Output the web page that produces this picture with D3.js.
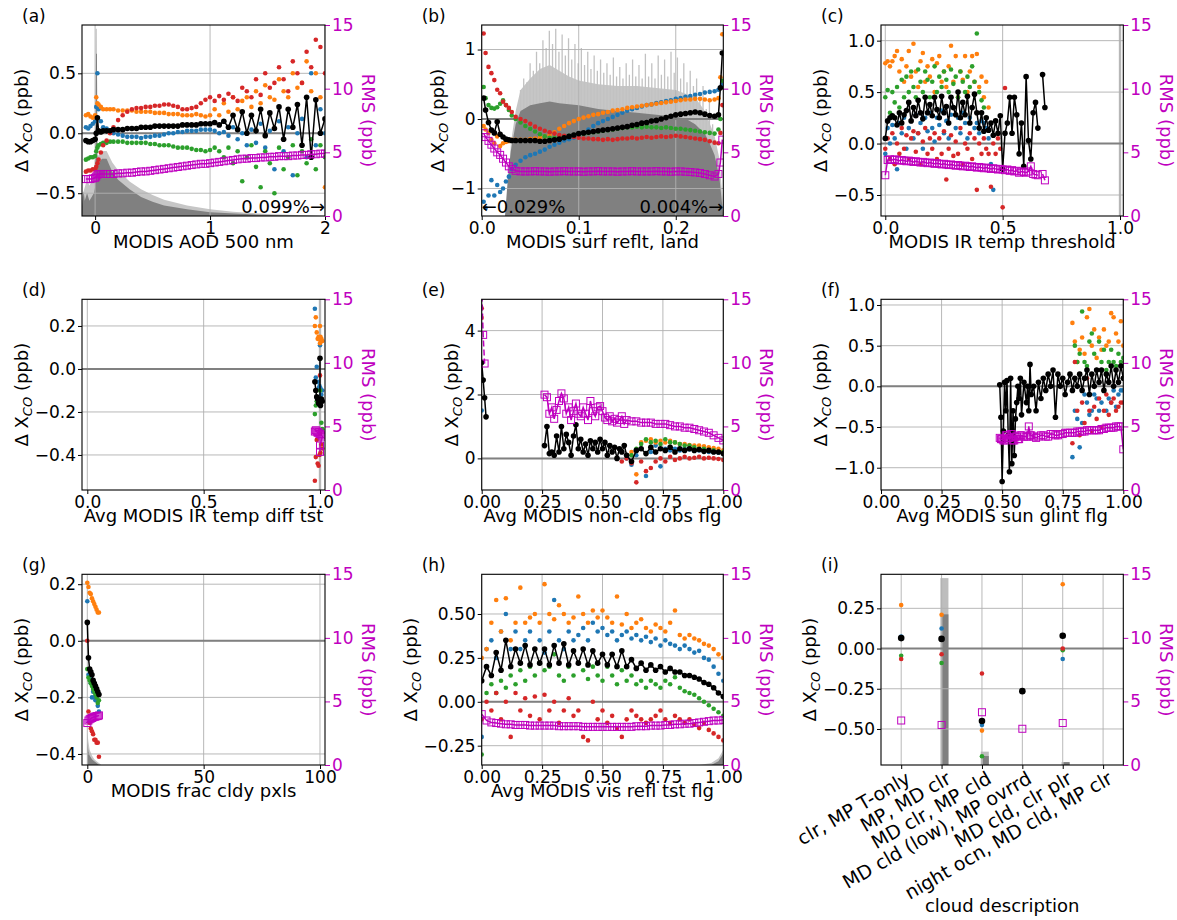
<!DOCTYPE html>
<html><head><meta charset="utf-8">
<script src="https://cdn.jsdelivr.net/npm/d3@7"></script>
<style>body{margin:0;background:#fff} svg text{font-family:"DejaVu Sans",sans-serif}</style>
</head><body><svg id="c" width="1177" height="920"></svg>
<script>
// ---------------- DATA ----------------
// (a) MODIS AOD 500 nm
const aX=[-0.08,-0.06,-0.04,-0.02,0.0,0.01,0.02,0.03,0.05,0.07,0.1,0.13,0.16,0.2,0.24,0.28,0.32,0.36,0.4,0.44,0.48,0.52,0.56,0.6,0.64,0.68,0.72,0.76,0.8,0.84,0.88,0.92,0.96,1.0,1.04,1.08,1.12,1.16,1.2,1.24,1.28,1.32,1.36,1.4,1.44,1.48,1.52,1.56,1.6,1.64,1.68,1.72,1.76,1.8,1.84,1.88,1.92,1.96,2.0];
const aBlack=[-0.06,-0.07,-0.07,-0.06,-0.05,0.0,0.13,0.02,0.01,0.02,0.02,0.02,0.03,0.03,0.03,0.04,0.04,0.04,0.05,0.05,0.05,0.06,0.06,0.06,0.06,0.06,0.06,0.07,0.07,0.07,0.07,0.08,0.08,0.08,0.09,0.07,0.1,0.05,0.15,0.03,0.18,0.0,0.15,0.02,0.2,-0.02,0.17,0.04,0.22,-0.05,0.2,0.05,0.24,-0.1,0.3,-0.2,0.28,0.0,0.12];
const aBlue=[0.05,0.04,0.06,0.08,0.1,0.22,0.5,0.2,0.1,0.05,0.04,0.02,0.0,-0.01,-0.02,-0.03,-0.03,-0.03,-0.04,-0.03,-0.03,-0.02,-0.02,-0.01,0.0,0.0,0.01,0.01,0.02,0.02,0.02,0.03,0.03,0.03,0.02,0.0,0.01,-0.02,0.05,-0.05,0.0,-0.1,0.03,-0.08,0.08,-0.12,0.02,-0.3,0.1,-0.15,0.05,-0.35,0.0,0.12,-0.2,0.5,-0.1,0.2,0.0];
const aOrange=[0.15,0.16,0.14,0.13,0.15,0.3,0.25,0.24,0.22,0.2,0.2,0.2,0.2,0.19,0.19,0.19,0.19,0.18,0.18,0.18,0.18,0.17,0.17,0.17,0.16,0.16,0.16,0.15,0.15,0.15,0.16,0.15,0.14,0.15,0.2,0.15,0.25,0.18,0.3,0.2,0.27,0.3,0.22,0.35,0.25,0.4,0.3,0.28,0.45,0.35,0.3,0.5,0.38,0.42,0.6,0.35,0.5,0.3,-0.45];
const aGreen=[-0.22,-0.21,-0.2,-0.2,-0.19,-0.15,-0.12,-0.1,-0.09,-0.08,-0.08,-0.07,-0.07,-0.07,-0.07,-0.08,-0.08,-0.08,-0.08,-0.08,-0.09,-0.09,-0.1,-0.1,-0.1,-0.11,-0.12,-0.12,-0.12,-0.13,-0.14,-0.14,-0.15,-0.14,-0.12,-0.15,-0.2,-0.12,-0.25,-0.15,-0.4,-0.2,-0.1,-0.28,-0.45,-0.15,-0.25,-0.5,-0.12,-0.3,-0.2,-0.1,-0.35,-0.15,-0.25,-0.05,-0.3,-0.1,-0.2];
const aRed=[-0.32,-0.31,-0.31,-0.3,-0.3,-0.28,-0.25,-0.22,-0.16,-0.1,-0.06,0.0,0.05,0.11,0.15,0.18,0.2,0.21,0.21,0.22,0.22,0.23,0.23,0.24,0.24,0.23,0.22,0.2,0.2,0.21,0.22,0.25,0.28,0.3,0.27,0.31,0.28,0.33,0.3,0.27,0.38,0.35,0.3,0.45,0.32,0.5,0.38,0.42,0.55,0.45,0.35,0.6,0.5,0.42,0.68,0.55,0.78,0.72,0.5];
const aRms=[2.9,2.9,2.9,2.95,3.0,3.1,3.25,3.3,3.3,3.3,3.3,3.3,3.3,3.35,3.35,3.4,3.4,3.45,3.5,3.5,3.55,3.6,3.65,3.7,3.75,3.8,3.85,3.9,3.95,4.0,4.05,4.1,4.1,4.15,4.2,4.25,4.3,4.35,4.4,4.45,4.5,4.5,4.55,4.55,4.6,4.6,4.65,4.65,4.7,4.7,4.7,4.75,4.75,4.8,4.8,4.85,4.85,4.9,4.9];
const aHistLight=[[-0.114,0.1],[-0.09,0.15],[-0.07,0.19],[-0.05,0.16],[-0.03,0.18],[-0.01,0.22],[0.0,0.3],[0.005,0.98],[0.015,0.98],[0.02,0.31],[0.06,0.34],[0.1,0.34],[0.15,0.28],[0.2,0.24],[0.3,0.18],[0.4,0.14],[0.5,0.11],[0.6,0.085],[0.8,0.055],[1.0,0.035],[1.2,0.022],[1.5,0.01],[2.0,0.0]];
const aHistDark=[[-0.114,0.05],[-0.1,0.13],[-0.09,0.08],[-0.07,0.12],[-0.05,0.08],[-0.03,0.1],[-0.01,0.12],[0.0,0.15],[0.008,0.85],[0.016,0.85],[0.02,0.27],[0.06,0.3],[0.1,0.3],[0.15,0.23],[0.2,0.19],[0.3,0.14],[0.4,0.1],[0.5,0.075],[0.6,0.055],[0.8,0.035],[1.0,0.02],[1.3,0.01],[1.6,0.004],[2.0,0.0]];

// (b) MODIS surf reflt, land
const bX=[0.002,0.004,0.007,0.01,0.013,0.016,0.019,0.022,0.025,0.028,0.031,0.035,0.04,0.045,0.05,0.055,0.06,0.065,0.07,0.075,0.08,0.085,0.09,0.095,0.1,0.105,0.11,0.115,0.12,0.125,0.13,0.135,0.14,0.145,0.15,0.155,0.16,0.165,0.17,0.175,0.18,0.185,0.19,0.195,0.2,0.205,0.21,0.215,0.22,0.225,0.23,0.235,0.24,0.244,0.246,0.248];
const bBlack=[0.3,0.13,-0.05,-0.16,-0.2,-0.04,-0.22,-0.26,-0.29,-0.3,-0.31,-0.31,-0.31,-0.31,-0.31,-0.31,-0.32,-0.32,-0.31,-0.3,-0.29,-0.27,-0.25,-0.23,-0.21,-0.2,-0.19,-0.18,-0.17,-0.16,-0.15,-0.14,-0.13,-0.12,-0.11,-0.09,-0.08,-0.06,-0.05,-0.03,-0.02,0.0,0.02,0.04,0.06,0.07,0.08,0.09,0.1,0.09,0.07,0.05,0.04,0.06,0.45,0.95];
const bBlue=[-1.19,-1.28,-1.1,-0.88,-1.1,-0.95,-1.05,-1.0,-0.9,-0.83,-0.72,-0.66,-0.6,-0.55,-0.52,-0.5,-0.47,-0.44,-0.4,-0.37,-0.34,-0.31,-0.29,-0.27,-0.24,-0.2,-0.15,-0.1,-0.06,-0.03,0.0,0.03,0.06,0.09,0.12,0.14,0.16,0.18,0.2,0.21,0.23,0.24,0.26,0.27,0.29,0.3,0.32,0.33,0.35,0.36,0.38,0.39,0.4,0.42,0.45,0.5];
const bOrange=[-0.1,-0.15,-0.2,-0.3,-0.35,-0.25,-0.39,-0.35,-0.33,-0.32,-0.3,-0.3,-0.3,-0.3,-0.29,-0.28,-0.27,-0.25,-0.23,-0.19,-0.14,-0.1,-0.06,-0.03,0.0,0.02,0.04,0.06,0.07,0.09,0.1,0.12,0.13,0.14,0.16,0.17,0.18,0.19,0.2,0.21,0.22,0.23,0.24,0.25,0.26,0.27,0.28,0.28,0.29,0.29,0.28,0.27,0.28,0.3,0.6,1.22];
const bGreen=[0.46,0.3,0.2,0.16,0.15,0.17,0.22,0.27,0.2,0.13,0.05,0.0,-0.05,-0.1,-0.14,-0.18,-0.22,-0.25,-0.27,-0.27,-0.26,-0.25,-0.24,-0.23,-0.22,-0.21,-0.2,-0.19,-0.18,-0.17,-0.16,-0.15,-0.14,-0.13,-0.12,-0.12,-0.11,-0.12,-0.11,-0.12,-0.12,-0.13,-0.12,-0.13,-0.14,-0.14,-0.15,-0.16,-0.17,-0.18,-0.19,-0.2,-0.21,-0.15,0.0,0.55];
const bRed=[1.23,0.95,0.75,0.66,0.56,0.42,0.37,0.25,0.2,0.16,0.1,0.03,0.0,-0.03,-0.07,-0.11,-0.14,-0.17,-0.19,-0.21,-0.23,-0.24,-0.25,-0.26,-0.27,-0.28,-0.28,-0.29,-0.29,-0.3,-0.29,-0.3,-0.29,-0.28,-0.28,-0.27,-0.28,-0.27,-0.26,-0.27,-0.26,-0.25,-0.26,-0.25,-0.24,-0.25,-0.26,-0.27,-0.28,-0.29,-0.3,-0.32,-0.34,-0.35,-0.2,0.2];
const bRms=[6.5,6.2,5.9,5.6,5.3,5.0,4.8,4.5,4.2,3.9,3.7,3.55,3.5,3.5,3.5,3.52,3.5,3.5,3.48,3.5,3.5,3.52,3.5,3.5,3.5,3.48,3.5,3.5,3.52,3.5,3.5,3.5,3.48,3.5,3.5,3.52,3.5,3.5,3.5,3.5,3.52,3.5,3.5,3.48,3.5,3.5,3.48,3.45,3.42,3.38,3.3,3.2,3.1,3.3,4.2,6.0];
const bHistLight=[[0.026,0],[0.03,0.38],[0.035,0.55],[0.04,0.66],[0.05,0.72],[0.06,0.77],[0.07,0.79],[0.08,0.76],[0.09,0.73],[0.1,0.71],[0.12,0.69],[0.14,0.68],[0.16,0.68],[0.18,0.67],[0.2,0.66],[0.22,0.62],[0.23,0.55],[0.24,0.42],[0.245,0.3],[0.248,0.1],[0.249,0]];
const bHistDark=[[0.024,0],[0.027,0.2],[0.03,0.34],[0.035,0.48],[0.04,0.55],[0.05,0.58],[0.06,0.59],[0.07,0.6],[0.08,0.59],[0.1,0.58],[0.12,0.56],[0.14,0.55],[0.16,0.54],[0.18,0.53],[0.2,0.52],[0.21,0.51],[0.22,0.48],[0.23,0.43],[0.235,0.38],[0.24,0.32],[0.245,0.2],[0.248,0.05],[0.249,0]];
const bSpikeX=[0.040,0.0433,0.0466,0.0499,0.0532,0.0565,0.0598,0.0631,0.0664,0.0697,0.073,0.0763,0.0796,0.0829,0.0862,0.0895,0.0928,0.0961,0.0994,0.1027,0.106,0.1093,0.1126,0.1159,0.1192,0.1225,0.1258,0.1291,0.1324,0.1357,0.139,0.1423,0.1456,0.1489,0.1522,0.1555,0.1588,0.1621,0.1654,0.1687,0.172,0.1753,0.1786,0.1819,0.1852,0.1885,0.1918,0.1951,0.1984,0.2017,0.205,0.2083,0.2116,0.2149,0.2182,0.2215,0.2248,0.2281,0.2314,0.2347,0.238];
const bSpikeH=[0.66,0.72,0.7,0.8,0.76,0.86,0.8,0.92,0.88,0.97,0.9,0.98,0.86,0.95,0.84,0.93,0.82,0.9,0.8,0.88,0.79,0.86,0.77,0.84,0.76,0.82,0.75,0.8,0.74,0.83,0.73,0.78,0.72,0.8,0.74,0.82,0.73,0.79,0.72,0.85,0.73,0.8,0.72,0.84,0.74,0.82,0.73,0.86,0.75,0.83,0.72,0.8,0.7,0.76,0.68,0.72,0.62,0.68,0.56,0.6,0.48];

// (c) MODIS IR temp threshold
const cX=[0.0,0.01,0.02,0.03,0.04,0.05,0.06,0.07,0.08,0.09,0.1,0.11,0.12,0.13,0.14,0.15,0.16,0.17,0.18,0.19,0.2,0.21,0.22,0.23,0.24,0.25,0.26,0.27,0.28,0.29,0.3,0.31,0.32,0.33,0.34,0.35,0.36,0.37,0.38,0.39,0.4,0.41,0.42,0.43,0.44,0.45,0.46,0.47,0.48,0.49,0.5,0.51,0.52,0.53,0.54,0.55,0.56,0.57,0.58,0.59,0.6,0.61,0.62,0.63,0.64,0.65,0.66,0.67,0.68];
const cBlack=[0.05,0.22,0.25,0.27,0.25,0.18,0.3,0.2,0.28,0.32,0.4,0.22,0.35,0.27,0.42,0.3,0.24,0.45,0.3,0.38,0.27,0.45,0.33,0.25,0.46,0.3,0.36,0.2,0.45,0.35,0.28,0.5,0.25,0.4,0.28,0.46,0.2,0.35,0.48,0.3,0.15,0.3,0.12,0.25,0.13,0.2,0.08,0.22,0.1,0.27,-0.25,0.1,0.2,0.45,0.1,0.45,0.28,-0.1,0.2,-0.22,0.65,0.03,-0.15,0.3,0.4,0.15,null,0.67,0.35];
const cOrange=[0.78,0.8,0.75,0.8,0.85,0.9,0.7,0.82,0.6,0.75,0.9,0.65,0.97,0.7,0.55,0.8,0.88,0.6,0.75,0.65,0.82,0.5,0.78,0.85,0.6,0.7,0.55,0.75,0.95,0.6,0.85,0.45,0.7,0.62,0.85,0.5,0.7,0.85,0.6,0.87,0.55,0.65,0.45,0.6,0.35];
const cGreen=[0.45,0.52,0.3,0.5,0.4,0.55,0.35,0.62,0.45,0.65,0.5,0.7,0.55,0.45,0.72,0.6,0.5,0.7,0.62,0.45,0.6,0.75,0.5,0.65,0.55,0.7,0.62,0.5,0.72,0.58,0.65,0.45,0.7,0.6,0.5,0.65,0.55,0.75,0.6,1.07,0.5,0.42,0.35];
const cBlue=[-0.1,0.15,0.0,0.18,0.05,-0.25,0.2,0.1,0.25,-0.05,0.15,0.22,0.05,0.28,0.1,0.2,-0.05,0.25,0.12,0.3,0.15,0.02,0.25,0.18,0.32,0.1,0.22,0.05,0.28,0.35,0.15,0.25,0.1,0.3,0.2,0.05,0.25,0.35,0.15,0.2,0.1,0.22,0.2,0.15,0.05,-0.2,-0.45];
const cRed=[-0.05,0.05,-0.15,0.1,-0.2,0.0,-0.1,0.15,-0.05,0.08,-0.15,0.05,0.12,-0.08,0.1,-0.2,0.02,0.15,-0.1,0.05,-0.05,0.1,-0.15,0.05,-0.1,0.12,-0.35,-0.05,0.08,-0.12,0.02,-0.1,0.15,-0.2,0.0,-0.05,0.1,-0.15,0.05,-0.45,0.0,-0.1,0.05,-0.05,-0.1,-0.42,0.0,-0.1,0.05,-0.05,-0.62,0.54];
const cRms=[3.2,4.4,4.45,4.4,4.45,4.4,4.35,4.4,4.35,4.3,4.35,4.3,4.25,4.3,4.25,4.2,4.25,4.2,4.15,4.2,4.15,4.1,4.15,4.1,4.05,4.1,4.05,4.0,4.05,4.0,3.95,4.0,3.95,3.9,3.95,3.9,3.85,3.9,3.85,3.8,3.85,3.8,3.75,3.8,3.75,3.7,3.75,3.7,3.65,3.7,3.65,3.6,3.65,3.55,3.6,3.5,3.55,3.4,3.5,3.45,3.4,3.5,3.9,3.3,3.25,3.2,null,3.3,2.8];
const cHistEdge=[[1.0,1.0]];

// (d) Avg MODIS IR temp diff tst
const dX=[0.978,0.982,0.986,0.99,0.994,0.998,1.002,1.006,1.01,1.0,1.0];
const dBlack=[-0.06,-0.1,-0.13,-0.14,-0.16,-0.15,-0.17,-0.14,-0.15,-0.15,0.05];
const dOrange=[0.2,0.24,0.17,0.14,0.15,0.14,0.15,0.14,0.13,0.12,0.2];
const dBlue=[0.28,-0.04,0.01,-0.06,-0.09,-0.08,-0.09,-0.12,-0.1,0.11,null];
const dGreen=[-0.21,-0.17,-0.15,null,-0.16,null,-0.14,-0.25,-0.28,-0.1,null];
const dRed=[-0.52,-0.41,-0.33,-0.44,-0.45,-0.4,-0.39,-0.35,-0.37,-0.03,-0.3];
const dRms=[4.6,4.7,4.6,4.5,4.55,4.4,4.4,4.3,4.2,3.5,3.0];
const dHistEdge=[[1.0,1.0]];

// (e) Avg MODIS non-cld obs flg
const eX=[0.0,0.006,0.012,0.018,0.1,0.26,0.27,0.28,0.29,0.3,0.31,0.32,0.33,0.34,0.35,0.36,0.37,0.38,0.39,0.4,0.41,0.42,0.43,0.44,0.45,0.46,0.47,0.48,0.49,0.5,0.51,0.52,0.53,0.54,0.55,0.56,0.57,0.58,0.59,0.6,0.62,0.64,0.66,0.68,0.7,0.72,0.74,0.76,0.78,0.8,0.82,0.84,0.86,0.88,0.9,0.92,0.94,0.96,0.98,1.0];
const eBlack=[3.0,2.45,1.9,1.3,null,0.4,1.0,0.15,0.2,0.1,0.7,0.2,1.0,0.3,0.75,0.5,0.1,0.7,1.05,0.3,0.6,0.2,0.45,0.1,0.55,0.3,0.5,0.2,0.6,0.3,0.5,0.1,0.4,0.2,0.35,0.0,0.3,0.2,0.4,0.1,-0.1,0.25,0.3,0.15,0.35,0.2,0.3,0.25,0.35,0.2,0.3,0.25,0.3,0.25,0.28,0.22,0.25,0.2,0.2,0.15];
const eRms=[16,12.2,9.95,null,null,7.5,7.3,6.0,6.5,5.6,6.3,7.0,7.6,7.2,6.0,6.5,5.5,6.2,6.8,6.0,5.8,6.5,6.0,5.5,7.0,6.2,5.8,6.5,6.6,6.2,5.7,5.5,5.8,5.4,5.6,5.3,5.5,5.8,5.2,5.5,5.4,5.4,5.3,5.3,5.3,5.2,5.2,5.2,5.1,5.0,5.0,4.9,4.9,4.8,4.7,4.6,4.5,4.3,4.1,3.9];
const eXc=[0.0,0.58,0.6,0.62,0.64,0.66,0.68,0.7,0.72,0.74,0.76,0.78,0.8,0.82,0.84,0.86,0.88,0.9,0.92,0.94,0.96,0.98,1.0];
const eOrange=[4.4,null,null,0.2,-0.5,0.5,0.55,0.6,0.5,0.55,0.5,0.55,0.5,0.45,0.45,0.42,0.4,0.4,0.38,0.35,0.32,0.3,0.25];
const eGreen=[null,null,null,0.1,0.3,0.45,0.6,0.5,0.55,0.45,0.6,0.5,0.5,0.45,0.4,0.4,0.35,0.3,0.3,0.25,0.25,0.2,0.2];
const eBlue=[1.5,null,0.0,-0.2,0.1,0.3,-0.55,0.2,0.4,-0.25,0.3,0.25,0.3,0.25,0.3,0.28,0.25,0.25,0.22,0.2,0.2,0.18,0.15];
const eRed=[4.7,-0.1,0.0,-0.15,-0.75,-0.1,-0.4,-0.3,-0.1,0.0,-0.1,0.05,-0.05,0.0,0.05,0.0,0.02,0.05,0.0,0.02,0.0,-0.02,-0.05];

// (f) Avg MODIS sun glint flg
const fX=[0.49,0.495,0.5,0.505,0.51,0.515,0.52,0.525,0.53,0.535,0.54,0.545,0.55,0.555,0.56,0.565,0.57,0.575,0.58,0.59,0.6,0.605,0.61,0.615,0.62,0.63,0.64,0.65,0.66,0.67,0.68,0.69,0.7,0.71,0.72,0.73,0.74,0.75,0.76,0.77,0.78,0.79,0.8,0.81,0.82,0.83,0.84,0.85,0.86,0.87,0.88,0.89,0.9,0.91,0.92,0.93,0.94,0.95,0.96,0.97,0.98,0.99,1.0];
const fBlack=[0.02,-0.38,-1.17,-0.55,0.05,-0.3,0.07,-0.6,-1.05,0.1,-0.95,-0.3,-0.85,-0.4,-0.2,0.0,-0.15,0.1,-0.35,0.05,-0.2,0.0,-0.3,0.27,-0.1,0.0,-0.3,0.05,-0.15,0.1,-0.05,0.15,0.0,0.2,-0.38,0.15,0.0,0.1,-0.1,0.05,0.15,-0.05,0.1,0.0,0.15,-0.05,0.1,0.2,-0.1,0.15,0.0,0.2,0.05,0.2,-0.05,0.15,0.05,0.25,0.0,0.2,0.05,0.25,0.1];
const fRms=[4.1,4.0,4.0,3.9,3.9,4.3,4.3,4.1,4.1,4.4,4.4,3.9,3.9,4.2,4.2,4.0,4.0,4.3,4.3,4.2,4.2,4.2,5.0,4.3,4.3,4.2,4.1,4.2,4.3,4.3,4.2,4.2,4.4,4.4,4.3,4.3,4.4,4.4,4.5,4.5,4.5,4.5,4.5,4.6,4.6,4.6,4.6,4.7,4.7,4.7,4.7,4.7,4.7,4.8,4.8,4.9,4.9,4.9,4.9,5.0,5.0,5.0,3.2];
const fXc=[0.79,0.8,0.81,0.82,0.83,0.84,0.85,0.86,0.87,0.88,0.89,0.9,0.91,0.92,0.93,0.94,0.95,0.96,0.97,0.98,0.99,1.0];
const fOrange=[0.78,0.55,0.3,0.45,0.6,0.4,0.85,0.95,0.5,0.7,0.35,0.6,0.45,0.7,0.5,0.55,0.9,0.85,0.65,0.55,0.8,0.5];
const fGreen=[null,0.5,0.3,0.4,0.92,0.3,0.25,0.55,0.65,0.4,0.2,0.55,0.3,0.45,0.2,0.3,0.45,0.3,0.25,0.4,0.3,0.35];
const fBlue=[-0.87,-0.3,-0.4,-0.75,-0.45,-0.1,-0.2,-0.35,-0.3,-0.1,-0.15,-0.3,-0.2,-0.05,-0.3,-0.15,-0.2,-0.05,-0.25,-0.1,-0.05,-0.05];
const fRed=[-0.7,0.3,-0.3,-0.6,-0.2,-0.45,0.1,-0.3,-0.55,-0.25,-0.4,-0.15,-0.5,-0.3,-0.1,-0.35,-0.2,-0.15,-0.3,-0.25,-0.2,-0.2];

// (g) MODIS frac cldy pxls
const gX=[0,0.5,1,1.5,2,2.5,3,3.5,4,4.5,5];
const gBlack=[0.065,-0.06,-0.1,-0.11,-0.12,-0.14,-0.15,-0.16,-0.17,-0.18,-0.19];
const gOrange=[0.205,0.19,0.17,0.165,0.15,0.14,0.13,0.12,0.11,0.1,0.1];
const gBlue=[0.14,-0.12,-0.13,-0.15,-0.2,-0.18,-0.2,-0.21,-0.21,-0.23,-0.25];
const gGreen=[-0.1,-0.13,-0.14,-0.15,-0.16,-0.17,-0.18,-0.19,-0.2,-0.22,-0.21];
const gRed=[0.0,-0.25,-0.29,-0.31,-0.32,-0.33,-0.35,-0.35,-0.36,-0.36,-0.41];
const gRms=[3.3,3.5,3.6,3.65,3.7,3.75,3.8,3.8,3.85,3.85,3.9];
const gHistLight=[[0,0.17],[0.5,0.12],[1,0.08],[2,0.05],[3,0.03],[4,0.02],[5,0.01],[6,0]];
const gHistDark=[[0,0.12],[0.5,0.07],[1,0.05],[2,0.03],[3,0.02],[4,0.01],[5,0]];

// (h) Avg MODIS vis refl tst flg
const hX=[0,0.02,0.04,0.06,0.08,0.1,0.12,0.14,0.16,0.18,0.2,0.22,0.24,0.26,0.28,0.3,0.32,0.34,0.36,0.38,0.4,0.42,0.44,0.46,0.48,0.5,0.52,0.54,0.56,0.58,0.6,0.62,0.64,0.66,0.68,0.7,0.72,0.74,0.76,0.78,0.8,0.82,0.84,0.86,0.88,0.9,0.92,0.94,0.96,0.98,1.0];
const hBlack=[0.12,0.2,0.15,0.28,0.18,0.35,0.2,0.3,0.22,0.32,0.21,0.3,0.22,0.3,0.21,0.32,0.22,0.33,0.21,0.29,0.22,0.3,0.21,0.29,0.22,0.27,0.21,0.27,0.2,0.29,0.2,0.24,0.19,0.22,0.18,0.21,0.18,0.2,0.17,0.19,0.17,0.17,0.15,0.15,0.14,0.13,0.11,0.1,0.08,0.05,0.03];
const hOrange=[0.25,0.3,0.45,0.58,0.4,0.59,0.35,0.45,0.65,0.45,0.48,0.5,0.45,0.67,0.5,0.47,0.55,0.5,0.45,0.48,0.6,0.5,0.45,0.52,0.48,0.52,0.48,0.45,0.6,0.44,0.5,0.42,0.45,0.47,0.42,0.4,0.44,0.42,0.4,0.45,0.52,0.38,0.36,0.38,0.36,0.35,0.33,0.32,0.3,0.27,0.25];
const hBlue=[-0.2,0.3,0.35,0.25,0.4,0.5,0.3,0.4,0.3,0.35,0.4,0.3,0.35,0.28,0.4,0.58,0.35,0.3,0.4,0.35,0.38,0.42,0.35,0.45,0.4,0.42,0.38,0.4,0.35,0.38,0.4,0.36,0.38,0.35,0.37,0.34,0.36,0.32,0.35,0.33,0.32,0.3,0.32,0.3,0.28,0.29,0.25,0.24,0.2,0.16,0.12];
const hGreen=[-0.3,0.05,0.1,0.05,0.12,0.08,0.15,0.1,0.18,0.12,0.2,0.15,0.22,0.18,0.2,0.27,0.15,0.12,0.2,0.15,0.22,0.18,0.13,0.2,0.15,0.12,0.2,0.15,0.1,0.18,0.12,0.15,0.1,0.12,0.08,0.12,0.1,0.08,0.12,0.1,0.14,0.08,0.06,0.05,0.04,0.02,0.0,-0.02,-0.04,-0.06,-0.08];
const hRed=[-0.1,0.0,-0.05,0.05,-0.1,0.0,-0.2,0.05,-0.05,0.02,-0.08,0.03,-0.1,0.04,-0.05,0.0,-0.12,-0.05,0.02,-0.08,-0.05,-0.2,-0.22,0.0,-0.1,-0.05,-0.12,-0.08,-0.15,-0.2,-0.1,-0.05,-0.08,-0.1,-0.12,-0.1,-0.08,-0.05,-0.1,-0.12,-0.08,-0.1,-0.12,-0.1,-0.13,-0.15,-0.12,-0.16,-0.18,-0.2,-0.22];
const hRms=[4.0,3.5,3.35,3.3,3.25,3.2,3.2,3.15,3.15,3.15,3.1,3.1,3.1,3.1,3.1,3.1,3.05,3.05,3.05,3.05,3.05,3.0,3.0,3.0,3.0,3.0,3.0,3.0,3.0,3.0,3.0,3.0,3.05,3.05,3.05,3.1,3.1,3.1,3.15,3.15,3.2,3.2,3.25,3.25,3.3,3.35,3.4,3.45,3.5,3.5,3.55];
const hHistLight=[[0.9,0],[0.95,0.01],[0.98,0.035],[1.0,0.08]];
const hHistDark=[[0.95,0],[0.98,0.02],[1.0,0.06]];

// (i) cloud description
const iCats=["clr, MP T-only","MP, MD clr","MD clr, MP cld","MD cld (low), MP ovrrd","MD cld, clr plr","night ocn, MD cld, MP clr"];
const iBlack=[0.065,0.06,-0.45,-0.265,0.08,null];
const iOrange=[0.27,0.21,-0.51,null,0.40,null];
const iBlue=[0.075,0.125,-0.475,null,-0.065,null];
const iGreen=[-0.045,-0.09,-0.67,null,-0.01,null];
const iRed=[-0.065,-0.035,-0.155,null,0.0,null];
const iRms=[3.5,3.15,4.15,2.85,3.3,null];
const iHistLight=[0,0.98,0.07,0,0.015,0];
const iHistDark=[0,0.79,0.047,0,0.015,0];

// tick labels
const rmsTicks=[0,5,10,15], rmsTickLabels=["0","5","10","15"];
const t3=[0,0.5,1], t3L=["0.0","0.5","1.0"];
const t5=[0,0.25,0.5,0.75,1], t5L=["0.00","0.25","0.50","0.75","1.00"];

// ---------------- LAYOUT / DRAW ----------------
const svg=d3.select('#c');
const colL=[82,481.7,881], colR=[325,723.3,1123.3];
const rowT=[25,299.3,574.3], rowB=[216,490,765];
const MAG='#bf00bf';
const COLORS={blue:'#1f77b4',orange:'#ff7f0e',green:'#2ca02c',red:'#d62728'};

const panels=[
 {id:'a',col:0,row:0,xd:[-0.114,2.0],yd:[-0.69,0.903],xt:[0,1,2],xtl:["0","1","2"],yt:[-0.5,0,0.5],ytl:["−0.5","0.0","0.5"],xl:"MODIS AOD 500 nm",
  x:aX,black:aBlack,blue:aBlue,orange:aOrange,green:aGreen,red:aRed,rms:aRms,hl:aHistLight,hd:aHistDark,
  notes:[{t:"0.099%→",a:"end",side:"r"}]},
 {id:'b',col:1,row:0,xd:[0,0.249],yd:[-1.396,1.353],xt:[0,0.1,0.2],xtl:["0.0","0.1","0.2"],yt:[-1,0,1],ytl:["−1","0","1"],xl:"MODIS surf reflt, land",
  x:bX,black:bBlack,blue:bBlue,orange:bOrange,green:bGreen,red:bRed,rms:bRms,hl:bHistLight,hd:bHistDark,spX:bSpikeX,spH:bSpikeH,
  notes:[{t:"←0.029%",a:"start",side:"l"},{t:"0.004%→",a:"end",side:"r"}]},
 {id:'c',col:2,row:0,xd:[-0.0183,1.014],yd:[-0.704,1.152],xt:t3,xtl:t3L,yt:[-0.5,0,0.5,1],ytl:["−0.5","0.0","0.5","1.0"],xl:"MODIS IR temp threshold",
  x:cX,black:cBlack,blue:cBlue,orange:cOrange,green:cGreen,red:cRed,rms:cRms,edge:cHistEdge},
 {id:'d',col:0,row:1,xd:[-0.0228,1.0215],yd:[-0.563,0.324],xt:t3,xtl:t3L,yt:[-0.4,-0.2,0,0.2],ytl:["−0.4","−0.2","0.0","0.2"],xl:"Avg MODIS IR temp diff tst",
  x:dX,black:dBlack,blue:dBlue,orange:dOrange,green:dGreen,red:dRed,rms:dRms,edge:dHistEdge},
 {id:'e',col:1,row:1,xd:[0,1],yd:[-0.99,4.98],xt:t5,xtl:t5L,yt:[0,2,4],ytl:["0","2","4"],xl:"Avg MODIS non-cld obs flg",
  x:eX,xc:eXc,black:eBlack,blue:eBlue,orange:eOrange,green:eGreen,red:eRed,rms:eRms,dashFirst:true},
 {id:'f',col:2,row:1,xd:[0,1],yd:[-1.274,1.07],xt:t5,xtl:t5L,yt:[-1,-0.5,0,0.5,1],ytl:["−1.0","−0.5","0.0","0.5","1.0"],xl:"Avg MODIS sun glint flg",
  x:fX,xc:fXc,black:fBlack,blue:fBlue,orange:fOrange,green:fGreen,red:fRed,rms:fRms},
 {id:'g',col:0,row:2,xd:[-2.28,102.15],yd:[-0.439,0.235],xt:[0,50,100],xtl:["0","50","100"],yt:[-0.4,-0.2,0,0.2],ytl:["−0.4","−0.2","0.0","0.2"],xl:"MODIS frac cldy pxls",
  x:gX,black:gBlack,blue:gBlue,orange:gOrange,green:gGreen,red:gRed,rms:gRms,hl:gHistLight,hd:gHistDark},
 {id:'h',col:1,row:2,xd:[0,1],yd:[-0.36,0.726],xt:t5,xtl:t5L,yt:[-0.25,0,0.25,0.5],ytl:["−0.25","0.00","0.25","0.50"],xl:"Avg MODIS vis refl tst flg",
  x:hX,black:hBlack,blue:hBlue,orange:hOrange,green:hGreen,red:hRed,rms:hRms,hl:hHistLight,hd:hHistDark},
 {id:'i',col:2,row:2,xd:[-0.5,5.5],yd:[-0.724,0.4616],xt:iCats.map((c,k)=>k),xtl:iCats,yt:[-0.5,-0.25,0,0.25],ytl:["−0.50","−0.25","0.00","0.25"],xl:"cloud description",
  x:iCats.map((c,k)=>k),black:iBlack,blue:iBlue,orange:iOrange,green:iGreen,red:iRed,rms:iRms,bars:{light:iHistLight,dark:iHistDark},cat:true,noLines:true}
];

function styleAxis(sel,color){
  sel.attr('font-size',17).attr('font-family','DejaVu Sans');
  sel.select('.domain').remove();
  sel.selectAll('line').attr('stroke',color).attr('stroke-width',1);
  sel.selectAll('text').attr('fill',color);
}

panels.forEach(p=>{
  const L=colL[p.col],R=colR[p.col],T=rowT[p.row],B=rowB[p.row];
  const w=R-L,h=B-T;
  const g=svg.append('g').attr('transform',`translate(${L},${T})`);
  const x=d3.scaleLinear().domain(p.xd).range([0,w]);
  const y=d3.scaleLinear().domain(p.yd).range([h,0]);
  const yR=d3.scaleLinear().domain([0,15]).range([h,0]);
  const yH=d3.scaleLinear().domain([0,1]).range([h,0]);
  const cid='clip_'+p.id;
  g.append('clipPath').attr('id',cid).append('rect').attr('width',w).attr('height',h);
  const pl=g.append('g').attr('clip-path',`url(#${cid})`);
  const area=d3.area().x(d=>x(d[0])).y0(h).y1(d=>yH(d[1]));
  if(p.hl) pl.append('path').datum(p.hl).attr('d',area).attr('fill','#c6c6c6');
  if(p.spX) pl.append('g').selectAll('line').data(p.spX.map((v,k)=>[v,p.spH[k]])).join('line')
      .attr('x1',d=>x(d[0])).attr('x2',d=>x(d[0])).attr('y1',h).attr('y2',d=>yH(d[1]))
      .attr('stroke','#c2c2c2').attr('stroke-width',1.3);
  if(p.hd) pl.append('path').datum(p.hd).attr('d',area).attr('fill','#808080');
  if(p.edge) pl.append('g').selectAll('rect').data(p.edge).join('rect')
      .attr('x',d=>x(d[0])-1.2).attr('width',2.4).attr('y',d=>yH(d[1])).attr('height',d=>h-yH(d[1])).attr('fill','#bdbdbd');
  if(p.bars){
    pl.append('g').selectAll('rect').data(p.bars.light).join('rect')
      .attr('x',(d,k)=>x(k-0.03)).attr('width',x(0.17)-x(-0.03)).attr('y',d=>yH(d)).attr('height',d=>h-yH(d)).attr('fill','#bdbdbd');
    pl.append('g').selectAll('rect').data(p.bars.dark).join('rect')
      .attr('x',(d,k)=>x(k+0.02)).attr('width',x(0.17)-x(0.02)).attr('y',d=>yH(d)).attr('height',d=>h-yH(d)).attr('fill','#808080');
  }
  // grid
  pl.append('g').selectAll('line').data(p.xt).join('line')
    .attr('x1',d=>x(d)).attr('x2',d=>x(d)).attr('y1',0).attr('y2',h).attr('stroke','#b0b0b0').attr('stroke-width',0.9);
  pl.append('g').selectAll('line').data(p.yt).join('line')
    .attr('y1',d=>y(d)).attr('y2',d=>y(d)).attr('x1',0).attr('x2',w).attr('stroke','#b0b0b0').attr('stroke-width',0.9);
  pl.append('line').attr('x1',0).attr('x2',w).attr('y1',y(0)).attr('y2',y(0)).attr('stroke','#808080').attr('stroke-width',2);
  // colored series
  ['blue','orange','green','red'].forEach(k=>{
    const xs=p.xc||p.x;
    const pts=p[k].map((v,j)=>[xs[j],v]).filter(d=>d[0]!=null&&d[1]!=null);
    pl.append('g').selectAll('circle').data(pts).join('circle')
      .attr('cx',d=>x(d[0])).attr('cy',d=>y(d[1])).attr('r',2.3).attr('fill',COLORS[k]);
  });
  // black
  const bp=p.black.map((v,j)=>[p.x[j],v]);
  if(!p.noLines) pl.append('path').attr('d',d3.line().defined(d=>d[1]!=null).x(d=>x(d[0])).y(d=>y(d[1]))(bp))
      .attr('fill','none').attr('stroke','#000').attr('stroke-width',1.5);
  pl.append('g').selectAll('circle').data(bp.filter(d=>d[1]!=null)).join('circle')
    .attr('cx',d=>x(d[0])).attr('cy',d=>y(d[1])).attr('r',p.cat?3.3:2.8).attr('fill','#000');
  // rms
  const rp=p.rms.map((v,j)=>[p.x[j],v]);
  if(!p.noLines){
    const segs=[];let cur=[];
    rp.forEach(d=>{ if(d[1]==null){ if(cur.length) segs.push(cur); cur=[]; } else cur.push(d); });
    if(cur.length) segs.push(cur);
    segs.forEach((s,si)=>{
      pl.append('path').attr('d',d3.line().x(d=>x(d[0])).y(d=>yR(d[1]))(s))
        .attr('fill','none').attr('stroke',MAG).attr('stroke-width',1.5)
        .attr('stroke-dasharray',(p.dashFirst&&si===0)?'6,3':null);
    });
  }
  pl.append('g').selectAll('rect').data(rp.filter(d=>d[1]!=null)).join('rect')
    .attr('x',d=>x(d[0])-3.5).attr('y',d=>yR(d[1])-3.5).attr('width',7).attr('height',7)
    .attr('fill','none').attr('stroke',MAG).attr('stroke-width',1);
  // axes
  const ax=g.append('g').attr('transform',`translate(0,${h})`)
    .call(d3.axisBottom(x).tickValues(p.xt).tickFormat((d,k)=>p.xtl[k]).tickSize(4).tickPadding(2));
  styleAxis(ax,'#000');
  if(p.cat){
    ax.selectAll('text').attr('font-size',19).attr('y',0).attr('dy','0.75em').attr('text-anchor','end')
      .attr('transform','translate(3,5) rotate(-30)');
  }
  const al=g.append('g').call(d3.axisLeft(y).tickValues(p.yt).tickFormat((d,k)=>p.ytl[k]).tickSize(4).tickPadding(2));
  styleAxis(al,'#000');
  const ar=g.append('g').attr('transform',`translate(${w},0)`)
    .call(d3.axisRight(yR).tickValues(rmsTicks).tickFormat((d,k)=>rmsTickLabels[k]).tickSize(5).tickPadding(2));
  styleAxis(ar,MAG);
  g.append('rect').attr('width',w).attr('height',h).attr('fill','none').attr('stroke','#000').attr('stroke-width',1.1);
  // labels
  const lb=al.node().getBBox();
  const yl=g.append('text').attr('transform',`translate(${lb.x-7},${h/2}) rotate(-90)`)
    .attr('text-anchor','middle').attr('font-size',18).attr('fill','#000');
  yl.append('tspan').text('Δ X');
  yl.append('tspan').attr('font-size',13).attr('font-style','italic').attr('dy',4).text('CO');
  yl.append('tspan').attr('dy',-4).text(' (ppb)');
  const rb=ar.node().getBBox();
  g.append('text').attr('transform',`translate(${w+rb.x+rb.width+8},${h/2}) rotate(90)`)
    .attr('text-anchor','middle').attr('font-size',18).attr('fill',MAG).text('RMS (ppb)');
  g.append('text').attr('x',w/2).attr('y',p.cat?(912-T):(h+32)).attr('text-anchor','middle')
    .attr('font-size',18).attr('fill','#000').text(p.xl);
  svg.append('text').attr('x',L-60).attr('y',T-3).attr('font-size',17).attr('fill','#000').text('('+p.id+')');
  (p.notes||[]).forEach(n=>{
    g.append('text').attr('x',n.side==='r'?w:0).attr('y',h-3).attr('text-anchor',n.a)
      .attr('font-size',18).attr('fill','#000').text(n.t);
  });
});
</script></body></html>
